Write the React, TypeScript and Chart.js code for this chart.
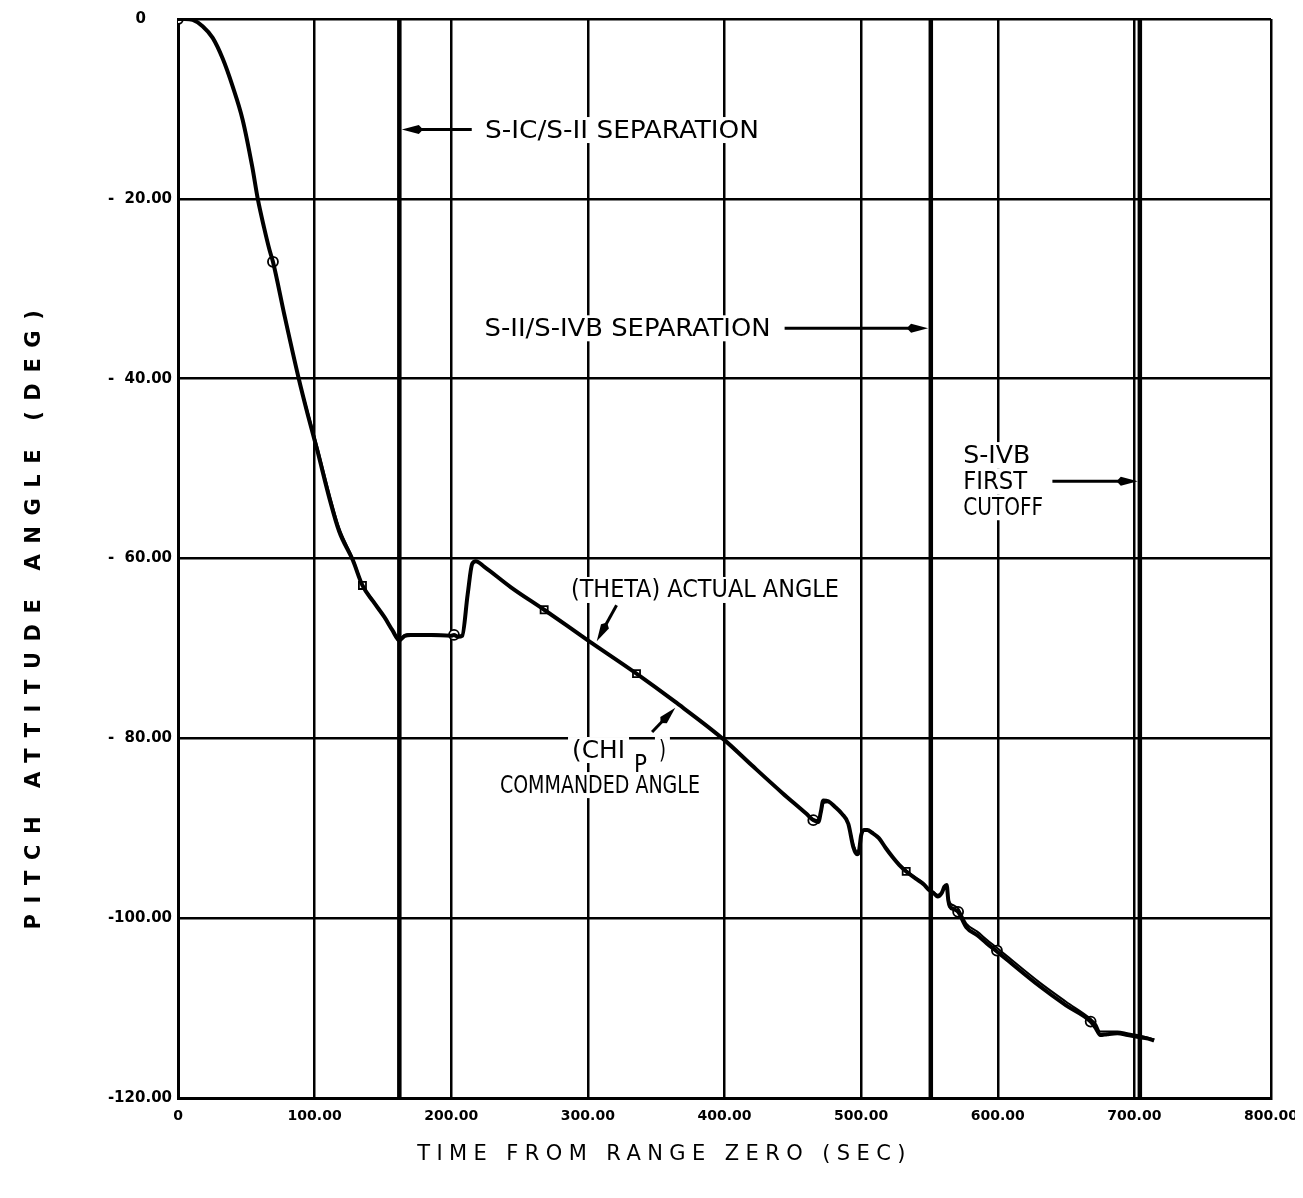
import React, { useEffect, useRef } from "react";
import { Chart, registerables } from "chart.js";

Chart.register(...registerables);

// ---- data ----
const timeSec = [
  0, 5, 10.8, 18, 25.4, 32.7, 40, 47.3, 54.3, 58.5, 63, 67, 69.5, 78, 88.4, 95, 102, 111, 118, 128,
  135, 143, 151, 157, 162, 166, 170.5, 185, 199.8, 202, 205, 208, 212, 215.3, 218, 224, 243.7, 268,
  300, 335.6, 363.5, 400, 420, 442.5, 460, 465, 468.7, 470.5, 472.3, 476, 480.8, 486, 490.6, 494.3,
  497, 498.5, 500, 502, 504.6, 508, 513, 518, 523, 528, 533, 540, 545.5, 550, 553, 556, 559, 561,
  562.6, 563.8, 565, 568, 571, 577, 585, 592, 599.4, 605, 631, 650, 668, 672, 675, 680, 687.6, 695,
  702, 710, 714.5,
];

const thetaDeg = [
  0, 0, -0.1, -0.8, -2.1, -4.4, -7.5, -11.2, -16.4, -20.1, -23.2, -25.7, -27, -33, -40, -44, -48,
  -53.4, -57, -60.2, -63, -64.8, -66.5, -68, -69.1, -68.6, -68.5, -68.5, -68.6, -68.5, -68.7, -68.6,
  -64, -60.6, -60.3, -60.9, -63.2, -65.7, -69.1, -72.8, -75.9, -80.2, -83, -86.1, -88.4, -89.1,
  -89.3, -88.2, -86.9, -87.0, -87.6, -88.4, -89.5, -92.1, -92.9, -92.5, -90.8, -90.2, -90.2, -90.5,
  -91.1, -92.2, -93.2, -94.1, -94.8, -95.6, -96.2, -96.9, -97.2, -97.6, -97.2, -96.5, -96.3, -98.0,
  -98.7, -99.0, -99.3, -101, -101.9, -102.8, -103.7, -104.4, -107.6, -109.7, -111.5, -112.3, -113,
  -112.9, -112.8, -113.0, -113.2, -113.4, -113.6,
];

const chiDeg = [
  0, 0, -0.1, -0.8, -2.1, -4.4, -7.5, -11.2, -16.4, -20.1, -23.2, -25.7, -27, -33, -40, -43.7, -47.6,
  -52.9, -56.6, -60.0, -62.9, -64.7, -66.5, -68, -68.9, -68.5, -68.4, -68.4, -68.5, -68.5, -68.6, -68.5,
  -64, -60.6, -60.3, -60.9, -63.2, -65.7, -69.1, -72.8, -75.9, -80.2, -83, -86.1, -88.4, -89.0,
  -89.1, -88.4, -87.2, -87.1, -87.6, -88.4, -89.5, -91.8, -92.6, -92.3, -90.9, -90.3, -90.3, -90.5,
  -91.1, -92.2, -93.2, -94.0, -94.7, -95.5, -96.1, -96.8, -97.1, -97.4, -97.1, -96.6, -96.5, -97.8,
  -98.3, -98.6, -98.9, -100.6, -101.5, -102.4, -103.3, -104.0, -107.2, -109.3, -111.2, -111.8, -112.6,
  -112.6, -112.6, -112.8, -113.0, -113.3, -113.5,
];

const markerTimes = [0, 69.5, 135, 202, 268, 335.6, 465, 533, 571, 599.4, 668];
const markerDeg = [0, -27, -63, -68.5, -65.7, -72.8, -89.1, -94.8, -99.3, -103.6, -111.5];
const markerShapes = ["circle", "circle", "rect", "circle", "rect", "rect", "circle", "rect", "circle", "circle", "circle"];

const xTicks = [0, 100, 200, 300, 400, 500, 600, 700, 800];
const yTicks = [0, -20, -40, -60, -80, -100, -120];

// event times (sec): S-IC/S-II separation, S-II/S-IVB separation, S-IVB first cutoff
const eventTimes = [162, 551, 704];

const xTitle = "TIME FROM RANGE ZERO (SEC)";
const yTitle = "PITCH ATTITUDE ANGLE (DEG)";

// ---- annotation layout (data-space anchors) ----
const LABEL_FAMILY = "'DejaVu Sans Condensed', 'Liberation Sans Narrow', 'DejaVu Sans', sans-serif";
const labelBlocks = [
  { text: "S-IC/S-II SEPARATION", t: 224.7, deg: -12.35, w: 274 },
  { text: "S-II/S-IVB SEPARATION", t: 224.4, deg: -34.4, w: 286 },
  { text: "S-IVB", t: 574.7, deg: -48.5, w: 67 },
  { text: "FIRST", t: 574.7, deg: -51.4, w: 64 },
  { text: "CUTOFF", t: 574.7, deg: -54.3, w: 80 },
  { text: "(THETA) ACTUAL ANGLE", t: 287.6, deg: -63.5, w: 268 },
  { text: "(CHI", t: 288.4, deg: -81.3, w: 53 },
  { text: "P", t: 333.8, deg: -82.9, w: 13 },
  { text: ")", t: 352, deg: -81.3, w: 7 },
  { text: "COMMANDED ANGLE", t: 235.6, deg: -85.2, w: 200 },
];
const arrows = [
  { from: [215, -12.3], to: [163.8, -12.3] },
  { from: [444, -34.4], to: [549, -34.4] },
  { from: [640, -51.4], to: [702.5, -51.4] },
  { from: [321, -65.2], to: [306.5, -69.2] },
  { from: [347, -79.3], to: [364, -76.6] },
];

const CANVAS_W = 1295;
const CANVAS_H = 1182;

function drawArrow(ctx: CanvasRenderingContext2D, x1: number, y1: number, x2: number, y2: number) {
  const ang = Math.atan2(y2 - y1, x2 - x1);
  const headLen = 17;
  const headW = 4.5;
  const bx = x2 - headLen * Math.cos(ang);
  const by = y2 - headLen * Math.sin(ang);
  ctx.beginPath();
  ctx.moveTo(x1, y1);
  ctx.lineTo(bx, by);
  ctx.lineWidth = 3;
  ctx.strokeStyle = "#000";
  ctx.stroke();
  ctx.beginPath();
  ctx.moveTo(x2, y2);
  ctx.lineTo(bx + headW * Math.sin(ang), by - headW * Math.cos(ang));
  ctx.lineTo(x2 - headLen * 1.25 * Math.cos(ang), y2 - headLen * 1.25 * Math.sin(ang));
  ctx.lineTo(bx - headW * Math.sin(ang), by + headW * Math.cos(ang));
  ctx.closePath();
  ctx.fillStyle = "#000";
  ctx.fill();
}

const overlayPlugin = {
  id: "overlay",
  beforeDatasetsDraw(chart: any) {
    const { ctx, chartArea, scales } = chart;
    const x = scales.x;
    const y = scales.y;
    ctx.save();
    // white tape behind the labels (breaks the grid like the original)
    ctx.fillStyle = "#fff";
    for (const b of labelBlocks) {
      const px = x.getPixelForValue(b.t);
      const py = y.getPixelForValue(b.deg);
      ctx.fillRect(px - 4, py - 13, b.w + 8, 26);
    }
    // event lines
    ctx.strokeStyle = "#000";
    ctx.lineWidth = 4.5;
    for (const t of eventTimes) {
      const px = x.getPixelForValue(t);
      ctx.beginPath();
      ctx.moveTo(px, chartArea.top);
      ctx.lineTo(px, chartArea.bottom);
      ctx.stroke();
    }
    ctx.restore();
  },
  afterDatasetsDraw(chart: any) {
    const { ctx, scales } = chart;
    const x = scales.x;
    const y = scales.y;
    ctx.save();
    ctx.fillStyle = "#000";
    ctx.textBaseline = "middle";
    ctx.textAlign = "left";
    ctx.font = `25px ${LABEL_FAMILY}`;
    for (const b of labelBlocks) {
      const px = x.getPixelForValue(b.t);
      const py = y.getPixelForValue(b.deg);
      const m = ctx.measureText(b.text).width;
      ctx.save();
      ctx.translate(px, py + 1);
      ctx.scale(b.w / m, 1);
      ctx.fillText(b.text, 0, 0);
      ctx.restore();
    }
    for (const a of arrows) {
      drawArrow(
        ctx,
        x.getPixelForValue(a.from[0]),
        y.getPixelForValue(a.from[1]),
        x.getPixelForValue(a.to[0]),
        y.getPixelForValue(a.to[1])
      );
    }
    ctx.restore();
  },
  afterDraw(chart: any) {
    const { ctx, chartArea } = chart;
    ctx.save();
    ctx.fillStyle = "#000";
    ctx.textAlign = "center";
    ctx.textBaseline = "middle";
    // x title
    ctx.font = "21px 'DejaVu Sans', sans-serif";
    (ctx as any).letterSpacing = "6.4px";
    ctx.fillText(xTitle, (chartArea.left + chartArea.right) / 2 - 60, chartArea.bottom + 57);
    // y title
    ctx.font = "bold 21px 'DejaVu Sans', sans-serif";
    (ctx as any).letterSpacing = "10.6px";
    ctx.translate(27, (chartArea.top + chartArea.bottom) / 2 + 56);
    ctx.rotate(-Math.PI / 2);
    ctx.fillText(yTitle, 0, 0);
    ctx.restore();
  },
};

export default function App() {
  const canvasRef = useRef<HTMLCanvasElement | null>(null);

  useEffect(() => {
    const canvas = canvasRef.current;
    if (!canvas) return;
    const xTickFont = { family: "'DejaVu Sans', sans-serif", size: 14, weight: "bold" as const };
    const yTickFont = { family: "'DejaVu Sans', sans-serif", size: 15, weight: "bold" as const };
    const chart = new Chart(canvas, {
      type: "line",
      data: {
        datasets: [
          {
            label: "(THETA) ACTUAL ANGLE",
            data: timeSec.map((t, i) => ({ x: t, y: thetaDeg[i] })),
            borderColor: "#000",
            borderWidth: 4,
            pointRadius: 0,
            cubicInterpolationMode: "monotone",
            fill: false,
          },
          {
            label: "(CHI P) COMMANDED ANGLE",
            data: timeSec.map((t, i) => ({ x: t, y: chiDeg[i] })),
            borderColor: "#000",
            borderWidth: 2,
            pointRadius: 0,
            cubicInterpolationMode: "monotone",
            fill: false,
          },
          {
            label: "symbols",
            data: markerTimes.map((t, i) => ({ x: t, y: markerDeg[i] })),
            showLine: false,
            pointStyle: markerShapes as any,
            pointRadius: 5,
            pointBackgroundColor: "#fff",
            pointBorderColor: "#000",
            pointBorderWidth: 1.8,
          },
        ],
      },
      options: {
        animation: false,
        responsive: false,
        devicePixelRatio: 1,
        layout: { padding: { left: 0, right: 32, top: 11, bottom: 0 } },
        plugins: { legend: { display: false }, tooltip: { enabled: false } },
        scales: {
          x: {
            type: "linear",
            min: 0,
            max: 800,
            afterBuildTicks: (s: any) => {
              s.ticks = xTicks.map((v) => ({ value: v }));
            },
            afterFit: (s: any) => {
              s.height = 92;
              s.paddingLeft = 0;
              s.paddingRight = 0;
            },
            grid: { color: "#000", lineWidth: 2.5, drawTicks: false },
            border: { color: "#000", width: 3 },
            ticks: {
              color: "#000",
              font: xTickFont,
              padding: 10,
              maxRotation: 0,
              autoSkip: false,
              callback: (v: any) => (v === 0 ? "0" : Number(v).toFixed(2)),
            },
          },
          y: {
            type: "linear",
            min: -120,
            max: 0,
            afterBuildTicks: (s: any) => {
              s.ticks = yTicks.map((v) => ({ value: v }));
            },
            afterFit: (s: any) => {
              s.width = 170;
              s.paddingTop = 0;
              s.paddingBottom = 0;
            },
            grid: { color: "#000", lineWidth: 2.5, drawTicks: false },
            border: { color: "#000", width: 3 },
            ticks: {
              color: "#000",
              font: yTickFont,
              padding: 6,
              autoSkip: false,
              callback: (v: any) => {
                const n = Number(v);
                if (n === 0) return "0     ";
                const a = Math.abs(n);
                return "-" + (a < 100 ? "  " : "") + a.toFixed(2);
              },
            },
          },
        },
      },
      plugins: [overlayPlugin],
    });
    return () => chart.destroy();
  }, []);

  return (
    <div style={{ width: CANVAS_W, height: CANVAS_H, background: "#fff" }}>
      <canvas
        ref={canvasRef}
        width={CANVAS_W}
        height={CANVAS_H}
        style={{ display: "block", width: CANVAS_W, height: CANVAS_H }}
      />
    </div>
  );
}
